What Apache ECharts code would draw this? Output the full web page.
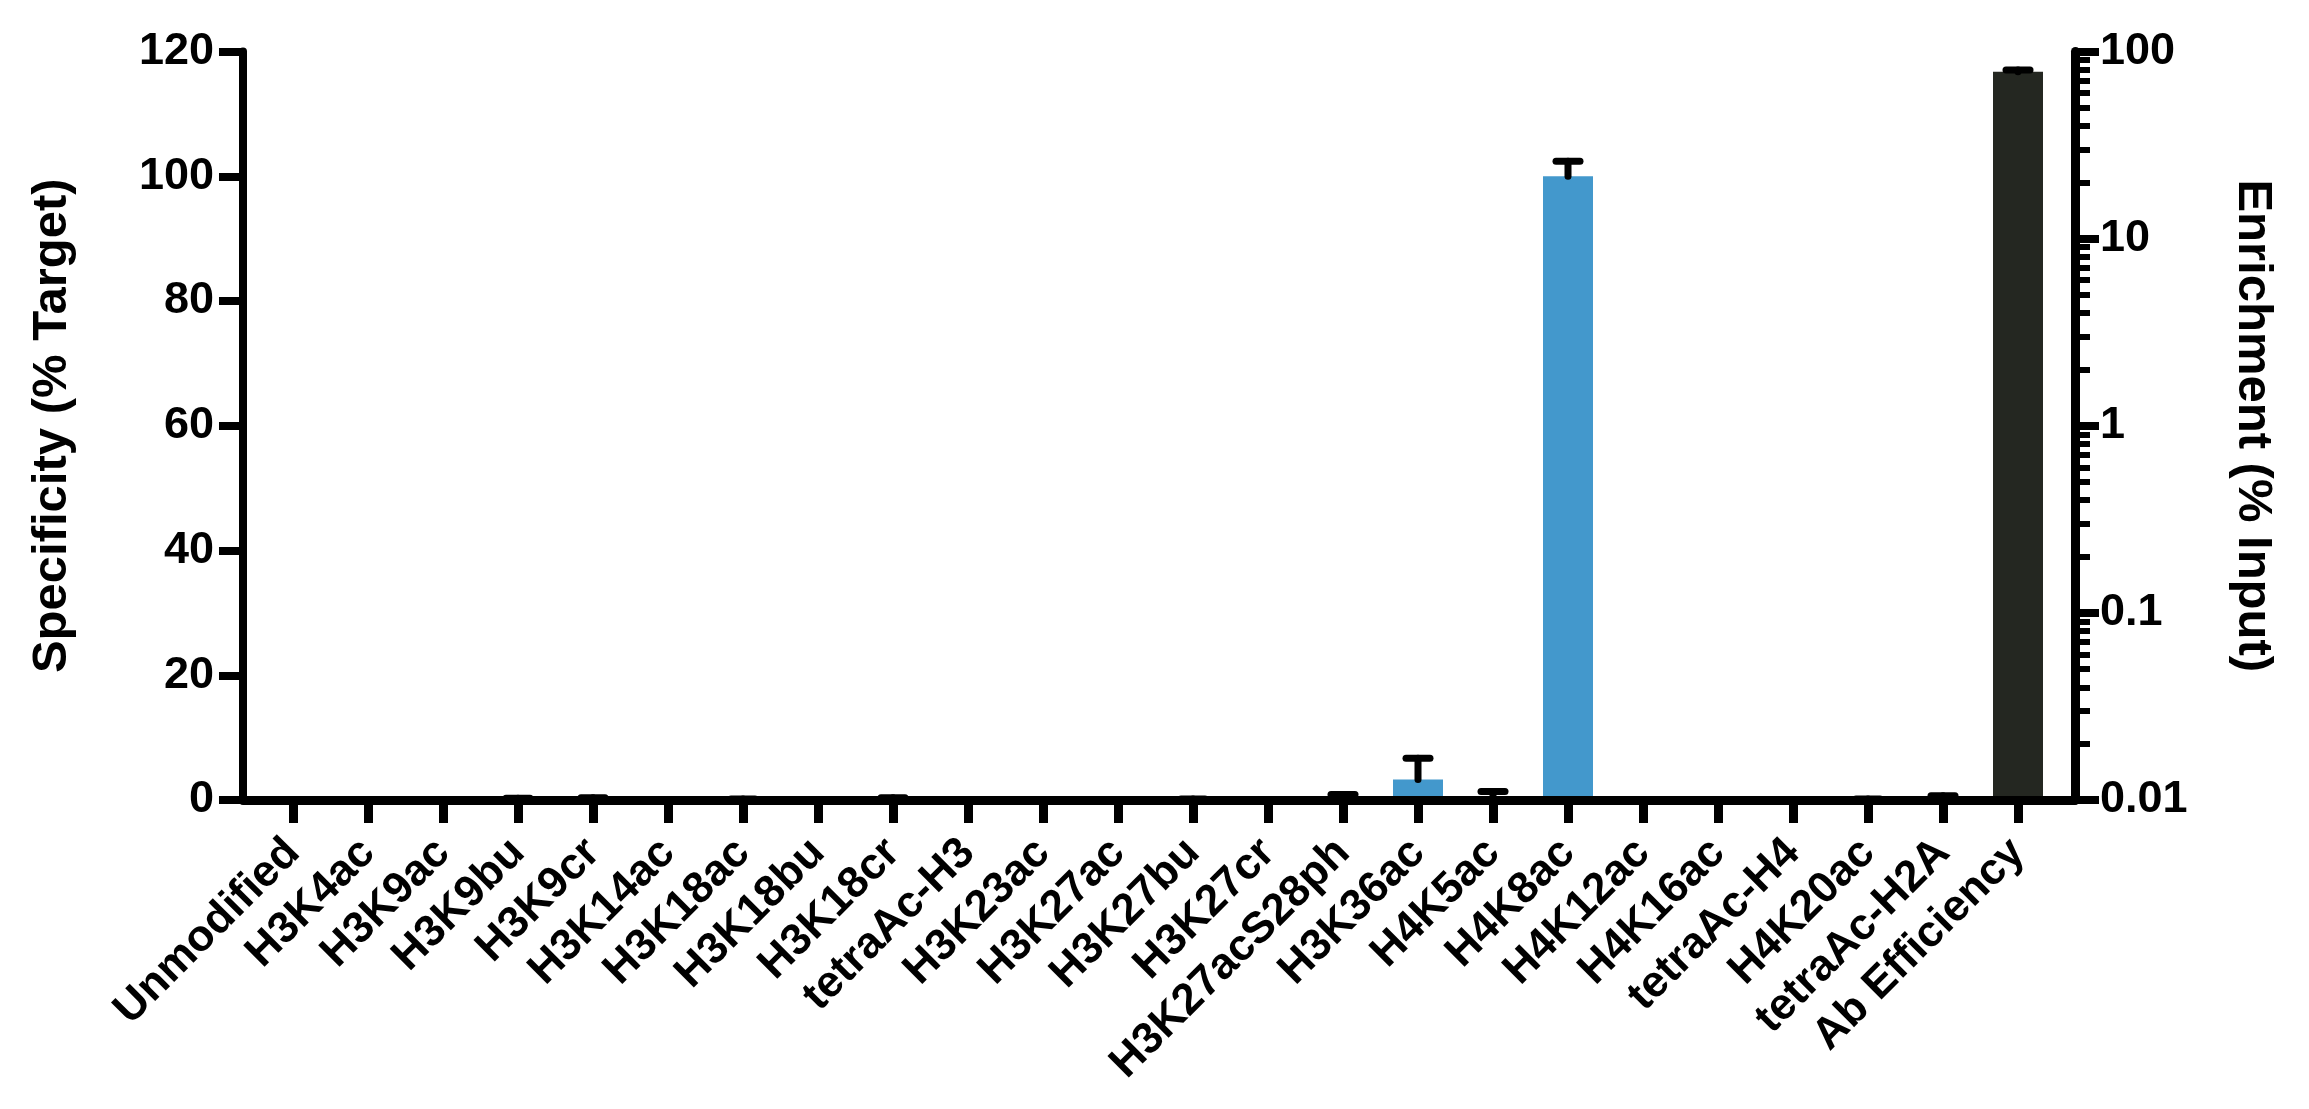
<!DOCTYPE html>
<html>
<head>
<meta charset="utf-8">
<script src="https://cdn.jsdelivr.net/npm/echarts@6/dist/echarts.min.js"></script>
<style>
html,body{margin:0;padding:0;background:#fff;}
#chart{width:2309px;height:1109px;}
</style>
</head>
<body>
<div id="chart"></div>
<script>
// ---- data ----
const categories = ['Unmodified','H3K4ac','H3K9ac','H3K9bu','H3K9cr','H3K14ac','H3K18ac','H3K18bu','H3K18cr','tetraAc-H3','H3K23ac','H3K27ac','H3K27bu','H3K27cr','H3K27acS28ph','H3K36ac','H4K5ac','H4K8ac','H4K12ac','H4K16ac','tetraAc-H4','H4K20ac','tetraAc-H2A','Ab Efficiency'];
const specificity    = [0,0,0,0.1,0.15,0,0.05,0,0.1,0,0,0,0.05,0,0.4,3.3,0.4,100,0,0,0,0.05,0.3,null];
const specificityErr = [0,0,0,0.2,0.2,0,0.1,0,0.25,0,0,0,0.1,0,0.5,3.4,0.95,2.4,0,0,0,0.1,0.4,null];
const enrichmentCategory = 'Ab Efficiency';
const enrichment    = [78.0];
const enrichmentErr = [1.6];
const leftTickMin = 0, leftTickMax = 120, leftTickStep = 20;
const rightLogMin = 0.01, rightLogMax = 100;
const rightMinorTicks = [0.02,0.03,0.04,0.05,0.06,0.07,0.08,0.09,0.2,0.3,0.4,0.5,0.6,0.7,0.8,0.9,2,3,4,5,6,7,8,9,20,30,40,50,60,70,80,90];

// ---- styles ----
const FONT = "'Liberation Sans', Arial, Helvetica, sans-serif";
const BLUE = '#4398cc';
const DARK = '#242721';
const BAR_W = 50;
const ERR_W = 7;
const CAP_HALF = 12;

const chart = echarts.init(document.getElementById('chart'), null, {renderer: 'canvas'});

function errorBar(api, x, mean, err) {
  const base = api.coord([x, mean]);
  const top = api.coord([x, mean + err]);
  const st = {stroke: '#000', lineWidth: ERR_W, lineCap: 'round'};
  return [
    {type: 'line', shape: {x1: base[0], y1: base[1], x2: top[0], y2: top[1]}, style: st},
    {type: 'line', shape: {x1: top[0] - CAP_HALF, y1: top[1], x2: top[0] + CAP_HALF, y2: top[1]}, style: st}
  ];
}

const errData = [];
specificity.forEach((v, i) => {
  if (v !== null && specificityErr[i] > 0) errData.push([i, v, specificityErr[i]]);
});
const abIndex = categories.indexOf(enrichmentCategory);
const abData = enrichment.map((v, k) => [abIndex, v, enrichmentErr[k]]);

const option = {
  animation: false,
  backgroundColor: '#fff',
  grid: [
    {left: 243, right: 234, top: 51.5, bottom: 309, containLabel: false},
    {left: 255.5, right: 253.5, top: 51.5, bottom: 309, containLabel: false}
  ],
  xAxis: [
    {gridIndex: 0, type: 'value', min: 0, max: 1, z: 5,
     axisLine: {show: true, lineStyle: {color: '#000', width: 9}},
     axisTick: {show: false}, axisLabel: {show: false}, splitLine: {show: false}},
    {gridIndex: 1, type: 'category', data: categories, boundaryGap: true,
     axisLine: {show: false},
     axisTick: {show: true, alignWithLabel: true, length: 23, lineStyle: {color: '#000', width: 9}},
     axisLabel: {interval: 0, rotate: 45, margin: 46, color: '#000', fontFamily: FONT, fontWeight: 'bold', fontSize: 44},
     splitLine: {show: false}}
  ],
  yAxis: [
    {gridIndex: 0, type: 'value', position: 'left', min: leftTickMin, max: leftTickMax, interval: leftTickStep, z: 5,
     name: 'Specificity (% Target)', nameLocation: 'middle', nameRotate: 90, nameGap: 166,
     nameTextStyle: {color: '#000', fontFamily: FONT, fontWeight: 'bold', fontSize: 49},
     axisLine: {show: true, lineStyle: {color: '#000', width: 8}},
     axisTick: {show: true, length: 24, lineStyle: {color: '#000', width: 8}},
     axisLabel: {margin: 29, color: '#000', fontFamily: FONT, fontWeight: 'bold', fontSize: 45},
     splitLine: {show: false}},
    {gridIndex: 0, type: 'log', logBase: 10, position: 'right', min: rightLogMin, max: rightLogMax, z: 5,
     name: 'Enrichment (% Input)', nameLocation: 'middle', nameRotate: -90, nameGap: 153,
     nameTextStyle: {color: '#000', fontFamily: FONT, fontWeight: 'bold', fontSize: 49},
     axisLine: {show: true, lineStyle: {color: '#000', width: 9}},
     axisTick: {show: true, length: 24, lineStyle: {color: '#000', width: 8}},
     axisLabel: {margin: 25, color: '#000', fontFamily: FONT, fontWeight: 'bold', fontSize: 45},
     splitLine: {show: false}},
    {gridIndex: 0, type: 'value', position: 'right', min: Math.log10(rightLogMin), max: Math.log10(rightLogMax), z: 5,
     axisLine: {show: false}, axisLabel: {show: false}, splitLine: {show: false},
     axisTick: {show: true, length: 15, customValues: rightMinorTicks.map(v => Math.log10(v)), lineStyle: {color: '#000', width: 6}}},
    {gridIndex: 1, type: 'value', min: leftTickMin, max: leftTickMax, show: false},
    {gridIndex: 1, type: 'log', logBase: 10, min: rightLogMin, max: rightLogMax, show: false}
  ],
  series: [
    {type: 'bar', xAxisIndex: 1, yAxisIndex: 3, data: specificity.map(v => v === null ? '-' : v),
     barWidth: BAR_W, itemStyle: {color: BLUE}, z: 2},
    {type: 'custom', xAxisIndex: 1, yAxisIndex: 3, data: errData, encode: {x: 0, y: 1}, z: 3,
     renderItem: function (params, api) {
       return {type: 'group', children: errorBar(api, api.value(0), api.value(1), api.value(2))};
     }},
    {type: 'custom', xAxisIndex: 1, yAxisIndex: 4, data: abData, encode: {x: 0, y: 1}, z: 2,
     renderItem: function (params, api) {
       const x = api.value(0), v = api.value(1), e = api.value(2);
       const top = api.coord([x, v]);
       const bot = api.coord([x, rightLogMin]);
       return {type: 'group', children: [
         {type: 'rect', shape: {x: top[0] - BAR_W / 2, y: top[1], width: BAR_W, height: bot[1] - top[1]}, style: {fill: DARK}}
       ].concat(errorBar(api, x, v, e))};
     }}
  ]
};
chart.setOption(option);
</script>
</body>
</html>
